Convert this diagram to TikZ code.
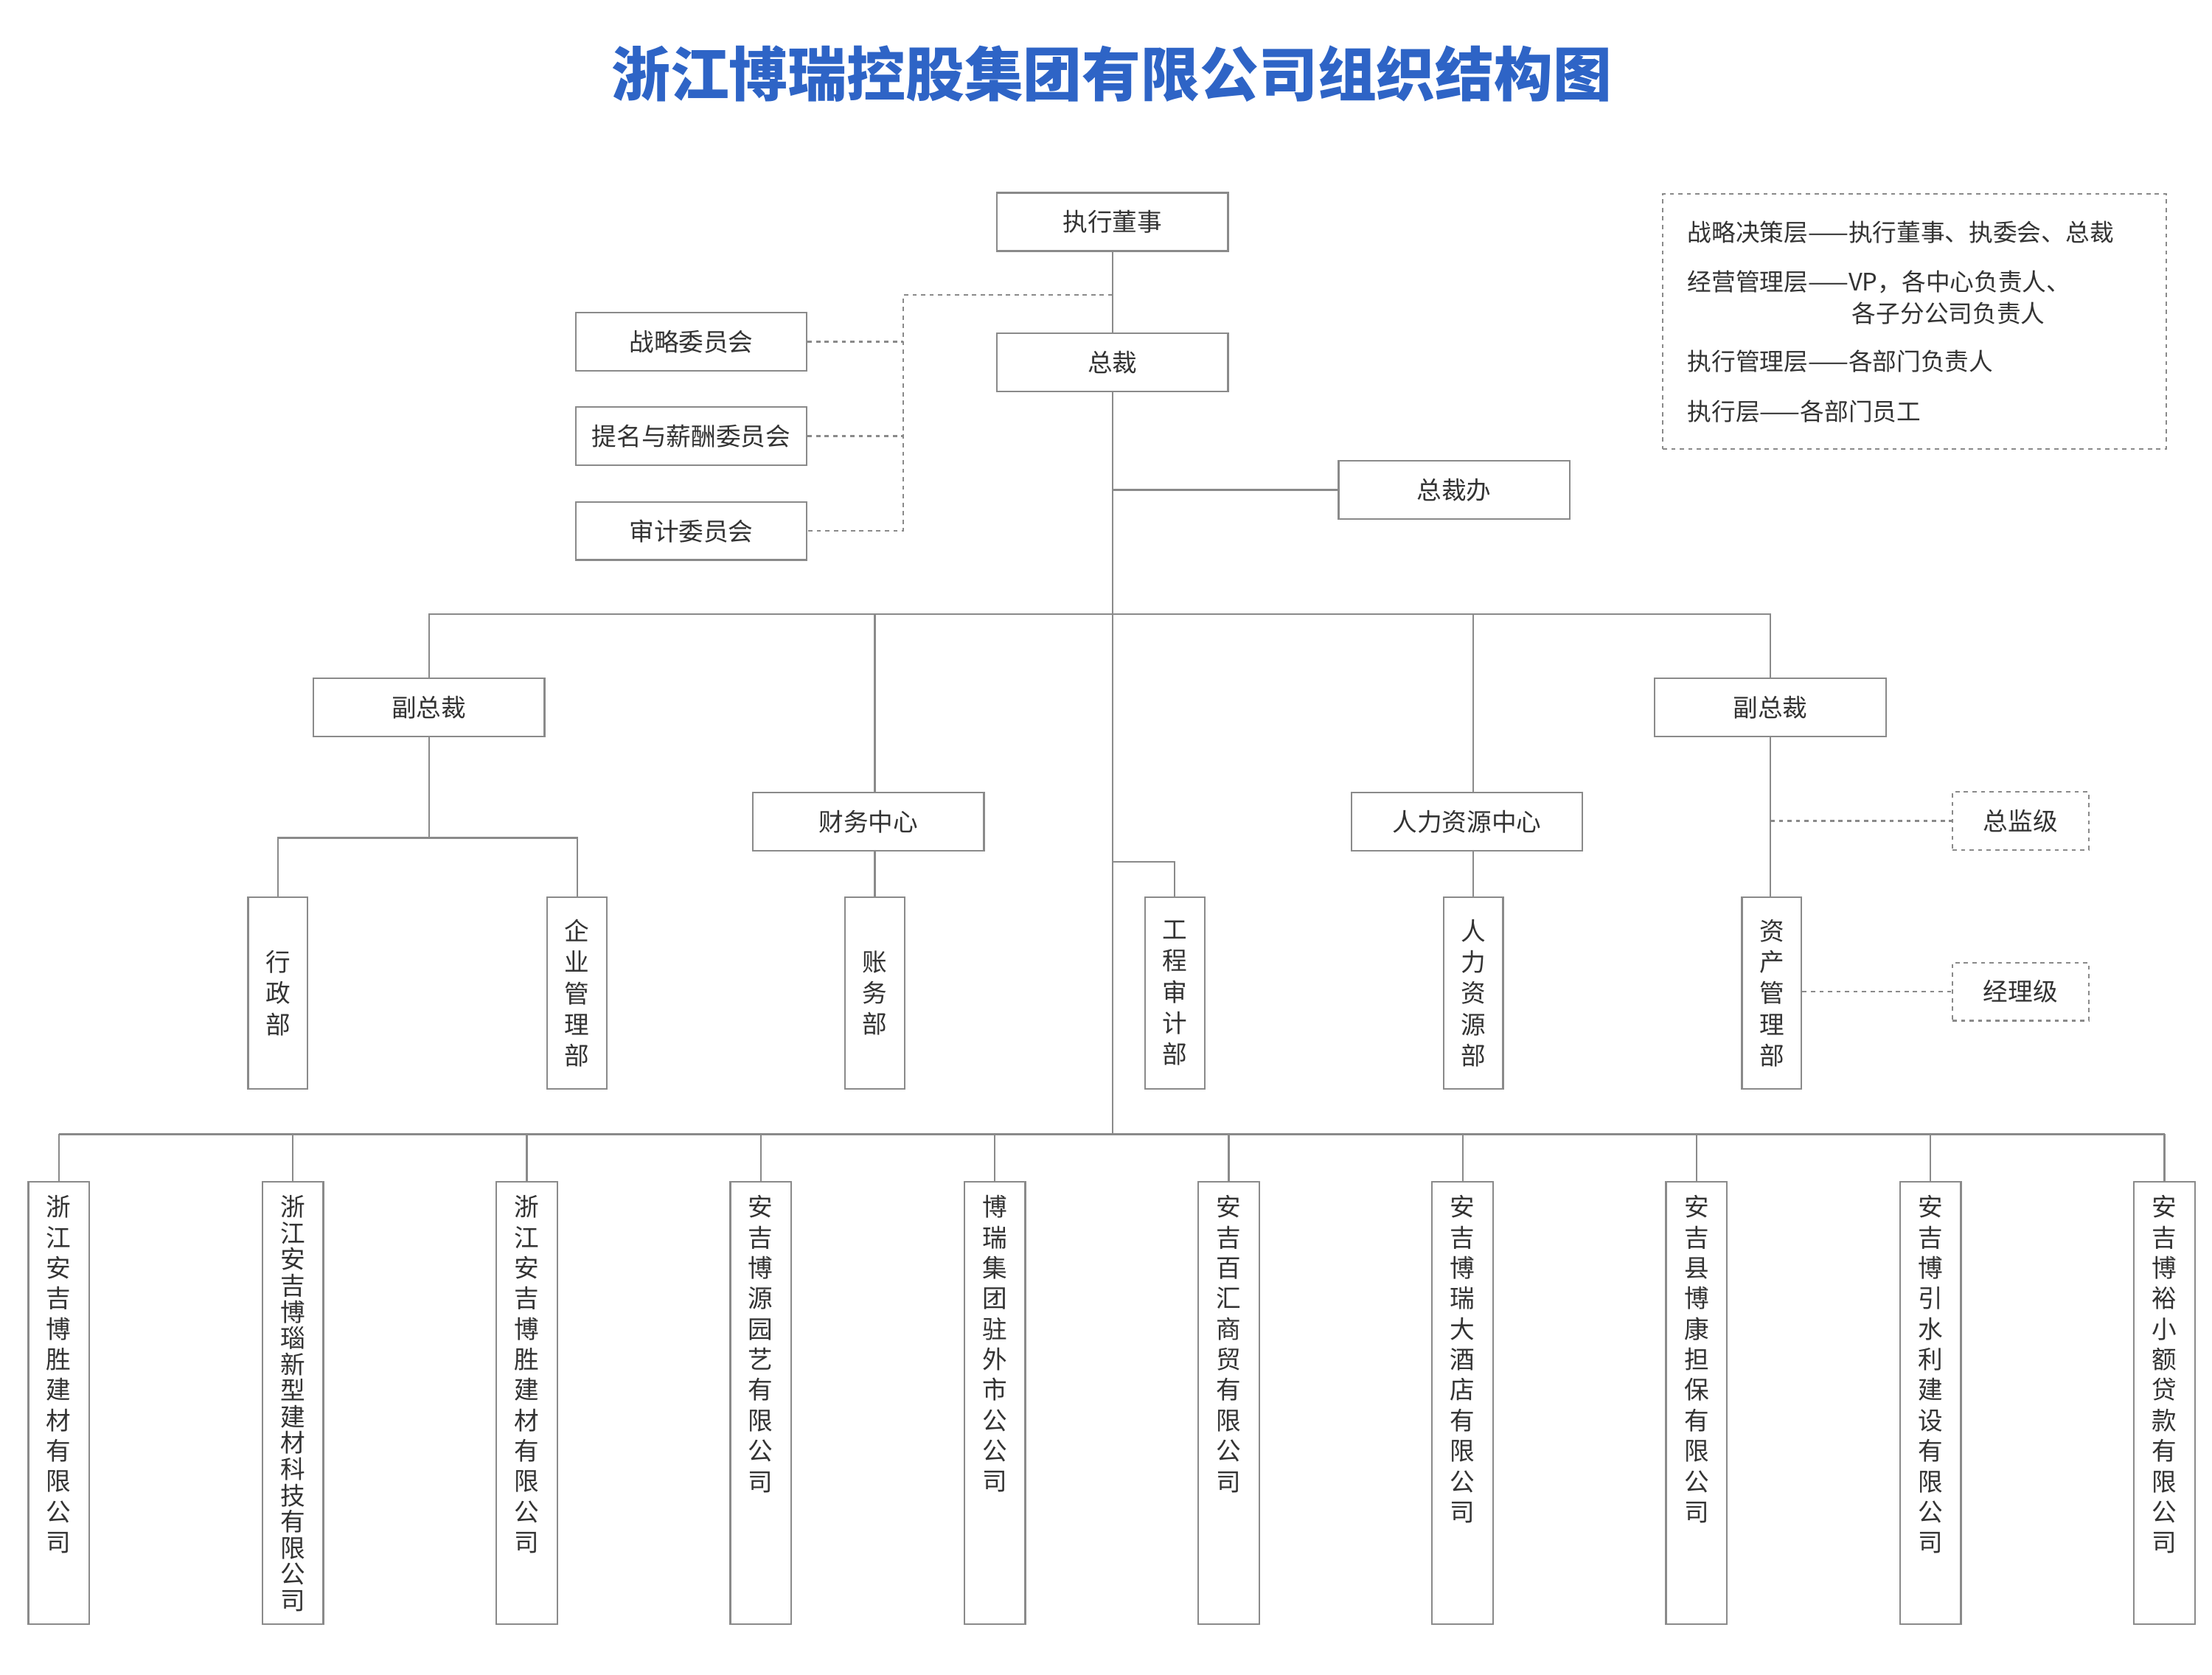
\documentclass[tikz,border=0pt]{standalone}
\usepackage{fontspec}
\newfontfamily\cjk{Noto Sans CJK SC}
\XeTeXlinebreaklocale "zh"
\XeTeXlinebreakskip=0pt plus 1pt
\usepackage{tikz}
\definecolor{linegray}{RGB}{138,138,138}
\definecolor{txtgray}{RGB}{51,51,51}
\definecolor{titleblue}{RGB}{46,100,198}
\tikzset{
    box/.style={draw=linegray, line width=1.2pt, minimum width=163pt, minimum height=41pt, inner sep=0pt, text=txtgray, font=\cjk\fontsize{17.5}{21}\selectfont}, % 横向方框
    dept/.style={draw=linegray, line width=1.2pt, minimum width=42pt, minimum height=135pt, text width=18pt, align=center, inner sep=0pt, text=txtgray, font=\cjk\fontsize{17.5}{22}\selectfont}, % 竖排部门
    cobox/.style={draw=linegray, line width=1.2pt, minimum width=43pt, minimum height=312pt, anchor=north, inner sep=0pt}, % 子公司外框
    cotext/.style={text width=18pt, align=center, anchor=north, inner sep=0pt, text=txtgray}, % 子公司名称
    lvl/.style={box, dash pattern=on 3pt off 3pt, minimum width=96pt}, % 级别框
    link/.style={draw=linegray, line width=1.2pt},
    dotlink/.style={link, dash pattern=on 3pt off 3pt},
    legtext/.style={anchor=west, inner sep=0pt, text=txtgray, font=\cjk\fontsize{17}{21}\selectfont}
}

\begin{document}
\begin{tikzpicture}[x=1pt, y=-1pt]
    \useasboundingbox (0,0) rectangle (1560,1181);

    \node[inner sep=0pt, text=titleblue, font=\cjk\bfseries\fontsize{41.5}{48}\selectfont] (title) at (784,52) {浙江博瑞控股集团有限公司组织结构图};

    % 图例
    \node[draw=linegray, line width=1.2pt, dash pattern=on 3pt off 3pt, minimum width=355pt, minimum height=180pt, anchor=north west] (legend) at (1172,136) {};
    \node[legtext] (lg1) at (1190,164) {战略决策层——执行董事、执委会、总裁};
    \node[legtext] (lg2) at (1190,199) {经营管理层——VP，各中心负责人、};
    \node[legtext] (lg3) at (1306,221) {各子分公司负责人};
    \node[legtext] (lg4) at (1190,255) {执行管理层——各部门负责人};
    \node[legtext] (lg5) at (1190,290) {执行层——各部门员工};

    % 决策层
    \node[box] (dong) at (784.5,156.5) {执行董事};
    \node[box] (pres) at (784.5,255.5) {总裁};
    \node[box] (zlw) at (487.5,241) {战略委员会};
    \node[box] (tmw) at (487.5,307.5) {提名与薪酬委员会};
    \node[box] (sjw) at (487.5,374.5) {审计委员会};
    \node[box] (zcb) at (1025.5,345.5) {总裁办};

    % 管理层
    \node[box] (vp1) at (302.5,499) {副总裁};
    \node[box] (vp2) at (1248.5,499) {副总裁};
    \node[box] (cw) at (612.5,579.5) {财务中心};
    \node[box] (rl) at (1034.5,579.5) {人力资源中心};
    \node[lvl] (zj) at (1425,579) {总监级};
    \node[lvl] (jl) at (1425,699.5) {经理级};

    % 部门
    \node[dept] (xz) at (196,700.5) {行政部};
    \node[dept] (qy) at (407,700.5) {企业管理部};
    \node[dept] (zw) at (617,700.5) {账务部};
    \node[dept] (gc) at (828.5,700.5) {工程审计部};
    \node[dept] (hr) at (1039,700.5) {人力资源部};
    \node[dept] (zc) at (1249.5,700.5) {资产管理部};

    \coordinate (cm) at (637,208);
    \coordinate (bus1) at (784.5,433);
    \coordinate (gcj) at (784.5,608);
    \coordinate (vp1j) at (302.5,591);
    \coordinate (bus2) at (784.5,800);

    \draw[link] (dong) -- (pres);
    \draw[link] (pres) -- (bus2);
    \draw[link] (pres.south |- zcb) -- (zcb.west);
    \draw[dotlink] (dong.south |- cm) -- (cm) -- (cm |- sjw) -- (sjw.east);
    \draw[dotlink] (zlw.east) -- (cm |- zlw);
    \draw[dotlink] (tmw.east) -- (cm |- tmw);

    \draw[link] (vp1.north) |- (bus1) -| (vp2.north);
    \draw[link] (zw.north |- bus1) -- (zw.north |- cw.north);
    \draw[link] (hr.north |- bus1) -- (hr.north |- rl.north);
    \draw[link] (vp1) -- (vp1j);
    \draw[link] (xz.north) |- (vp1j) -| (qy.north);
    \draw[link] (zw.north |- cw.south) -- (zw.north);
    \draw[link] (gcj) -| (gc.north);
    \draw[link] (hr.north |- rl.south) -- (hr.north);
    \draw[link] (vp2) -- (vp2 |- zc.north);
    \draw[dotlink] (vp2.south |- zj) -- (zj.west);
    \draw[dotlink] (zc.east |- jl) -- (jl.west);

    % 子公司
    \draw[link] (41.5,800) -- (1526.5,800);
    \foreach \nm/\sk [count=\i] in {浙江安吉博胜建材有限公司/21.5, 浙江安吉博瑙新型建材科技有限公司/18.5, 浙江安吉博胜建材有限公司/21.5, 安吉博源园艺有限公司/21.5, 博瑞集团驻外市公公司/21.5, 安吉百汇商贸有限公司/21.5, 安吉博瑞大酒店有限公司/21.5, 安吉县博康担保有限公司/21.5, 安吉博引水利建设有限公司/21.5, 安吉博裕小额贷款有限公司/21.5} {
        \node[cobox] (co\i) at ({41.5+165*(\i-1)},833) {};
        \node[cotext, font=\cjk\fontsize{17.5}{\sk}\selectfont] (cot\i) at ([yshift=-10pt]co\i.north) {\nm};
        \draw[link] (co\i.north) -- (co\i.north |- bus2);
    }
\end{tikzpicture}
\end{document}
